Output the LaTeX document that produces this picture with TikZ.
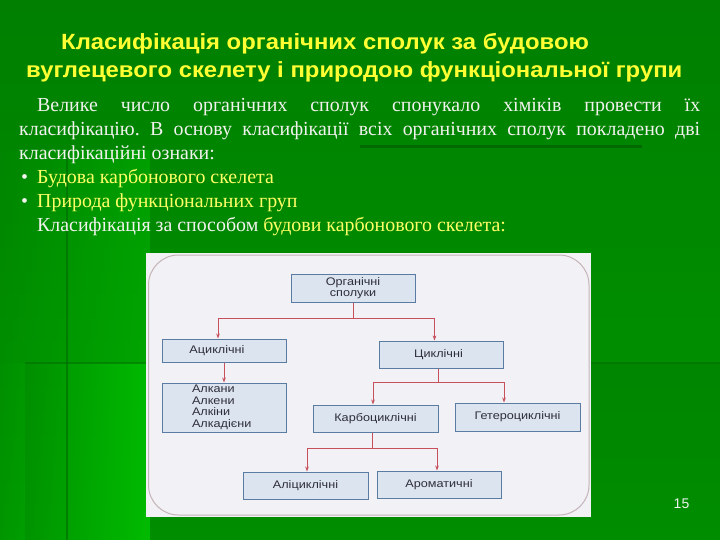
\documentclass[tikz,border=0pt]{standalone}
\usepackage{fontspec}
\setmainfont{Liberation Serif}
\setsansfont{Liberation Sans}
\newfontfamily\titlefont[FakeStretch=1.085]{Liberation Sans}
\newfontfamily\boxfont[FakeStretch=1.15]{Liberation Sans}
\usepackage{tikz}
\usetikzlibrary{arrows.meta,fadings}

\definecolor{slidetop}{HTML}{007F00}
\definecolor{slidebot}{HTML}{009600}
\definecolor{slideglow}{HTML}{00D000}
\definecolor{slideline}{HTML}{006A00}
\definecolor{titleyellow}{HTML}{FFFF33}
\definecolor{itemyellow}{HTML}{FFFF66}
\definecolor{bodywhite}{HTML}{F2F2EE}
\definecolor{panelbg}{HTML}{F1F1F6}
\definecolor{panelrim}{HTML}{C4B4B6}
\definecolor{boxfill}{HTML}{DCE4F0}
\definecolor{boxedge}{HTML}{5A7CA2}
\definecolor{boxtext}{HTML}{2E2E3A}
\definecolor{linkred}{HTML}{C8505C}

\begin{document}
\frenchspacing
\begin{tikzpicture}[x=1pt,y=-1pt,
    txt/.style={inner sep=0pt,anchor=base west,text=bodywhite,
      font=\fontsize{19.9}{24}\selectfont},
    headline/.style={inner sep=0pt,anchor=base west,text=titleyellow,
      font=\fontsize{22}{26}\selectfont\titlefont\bfseries},
    cls/.style={draw=boxedge,fill=boxfill,line width=1pt,inner sep=0pt,
      minimum width=124pt,minimum height=27pt,text=boxtext,align=center,
      font=\fontsize{11}{11.6}\selectfont\boxfont},
    link/.style={draw=linkred,line width=0.9pt,-{Stealth[length=5pt,width=3.6pt]}}]
  \useasboundingbox (0,0) rectangle (720,540);
  % Draw slide background
  \shade[top color=slidetop,bottom color=slidebot] (0,0) rectangle (720,540);
  \fill[slideglow,path fading=west,opacity=.35] (0,150) rectangle (150,363);
  \fill[slideglow,path fading=west,opacity=.85] (0,363) rectangle (150,540);
  \fill[black,opacity=.06] (25,363) rectangle (720,540);
  \draw[slideline,opacity=.5,line width=1.5pt] (25,363) -- (720,363);
  \draw[slideline,opacity=.6,line width=2pt] (66.5,150) -- (66.5,540);
  \draw[slideline,line width=3pt] (360,146.5) -- (642,146.5);

  % Title
  \node[headline] (title1) at (61,49.3) {Класифікація органічних сполук за будовою};
  \node[headline] (title2) at (26,77.3) {вуглецевого скелету і природою функціональної групи};

  % Intro text
  \node[txt] (intro1) at (37,111.5)
    {\makebox[663pt][s]{Велике число органічних сполук спонукало хіміків провести їх}};
  \node[txt] (intro2) at (19,135.5)
    {\makebox[681pt][s]{класифікацію. В основу класифікації всіх органічних сполук покладено дві}};
  \node[txt] (intro3) at (19,159.5) {класифікаційні ознаки:};
  \node[txt] (dot1) at (21,183.5) {•};
  \node[txt,text=itemyellow] (item1) at (37,183.5) {Будова карбонового скелета};
  \node[txt] (dot2) at (21,207.5) {•};
  \node[txt,text=itemyellow] (item2) at (37,207.5) {Природа функціональних груп};
  \node[txt] (outro) at (37,231.5)
    {Класифікація за способом \textcolor{itemyellow}{будови карбонового скелета:}};

  % Draw picture panel
  \fill[panelbg] (146,253) rectangle (591,517);
  \draw[panelrim,line width=1pt,rounded corners=30pt] (148.5,255) rectangle (589,515);

  % Classes
  \node[cls,minimum height=28pt] (org) at (353,288) {Органічні\\сполуки};
  \node[cls,minimum height=23pt] (acyc) at (224,350.5) {Ациклічні\hspace{14pt}};
  \node[cls] (cyc) at (441.5,354.5) {Циклічні\hspace{6pt}};
  \node[cls,minimum height=49pt,align=left,text width=64pt,inner xsep=30pt]
    (alk) at (224,407.5) {Алкани\\Алкени\\Алкіни\\Алкадієни};
  \node[cls,minimum width=125pt] (carbo) at (375.5,418.5) {Карбоциклічні};
  \node[cls,minimum width=125pt,minimum height=28pt] (hetero) at (517.5,417) {Гетероциклічні};
  \node[cls,minimum width=125pt] (alic) at (305.5,485.5) {Аліциклічні};
  \node[cls] (arom) at (439,484.5) {Ароматичні};

  % Connectors
  \draw[link] (org.south) -- ++(0,16) -| ([xshift=-6pt]acyc.north);
  \draw[link] (org.south) -- ++(0,16) -| ([xshift=-7pt]cyc.north);
  \draw[link] (acyc.south) -- (alk.north);
  \draw[link] ([xshift=-3pt]cyc.south) -- ++(0,14) -| ([xshift=-2.5pt]carbo.north);
  \draw[link] ([xshift=-3pt]cyc.south) -- ++(0,14) -| ([xshift=-13.5pt]hetero.north);
  \draw[link] ([xshift=-3.5pt]carbo.south) -- ++(0,16) -| ([xshift=1.5pt]alic.north);
  \draw[link] ([xshift=-3.5pt]carbo.south) -- ++(0,16) -| ([xshift=-2pt]arom.north);

  % Page number
  \node[inner sep=0pt,anchor=base,text=bodywhite,font=\fontsize{14}{16}\selectfont\sffamily]
    (pagenum) at (681.5,508.5) {15};
\end{tikzpicture}
\end{document}
